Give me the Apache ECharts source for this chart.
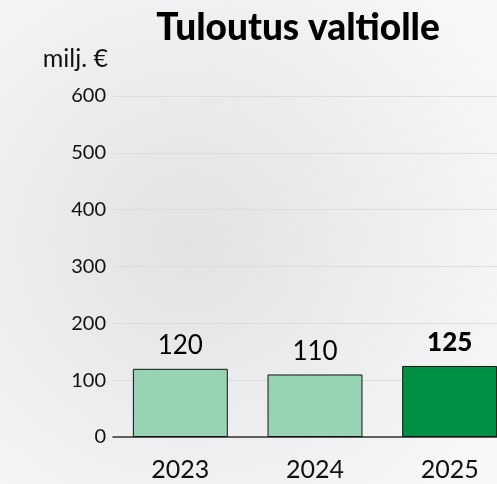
<!DOCTYPE html>
<html>
<head>
<meta charset="utf-8">
<script src="https://cdn.jsdelivr.net/npm/echarts@6/dist/echarts.min.js"></script>
<style>
  html, body { margin: 0; padding: 0; }
  #chart { width: 497px; height: 484px; }
</style>
</head>
<body>
<div id="chart"></div>
<script>
// arvot luettu kuvasta
const years = ['2023', '2024', '2025']
const values = [120, 110, 125]
const yTicks = [0, 100, 200, 300, 400, 500, 600]

const chart = echarts.init(document.getElementById('chart'), null, { renderer: 'canvas' })

const option = {
  backgroundColor: {
    type: 'radial', x: 0.38, y: 0.5, r: 0.75,
    colorStops: [
      { offset: 0, color: '#e2e2e5' },
      { offset: 0.55, color: '#eeeef0' },
      { offset: 1, color: '#f8f8f9' }
    ]
  },
  animation: false,
  title: {
    text: 'Tuloutus valtiolle',
    left: 293,
    top: 5,
    textAlign: 'center',
    textStyle: { fontFamily: 'Lato', fontWeight: 900, fontSize: 37, color: '#000' }
  },
  grid: { left: 113, width: 404, top: 96, bottom: 47, outerBoundsMode: 'none', containLabel: false },
  xAxis: {
    type: 'category',
    data: years,
    axisLine: { lineStyle: { color: '#333', width: 1.5 } },
    axisTick: { show: false },
    axisLabel: { fontFamily: 'Lato', fontSize: 25, color: '#111', margin: 20 }
  },
  yAxis: {
    type: 'value',
    min: 0,
    max: 600,
    interval: 100,
    name: 'milj. €',
    nameLocation: 'end',
    nameGap: 25,
    nameTextStyle: { fontFamily: 'Lato', fontSize: 25, color: '#111', align: 'right', padding: [0, 5, 0, 0] },
    axisLine: { show: false },
    axisTick: { show: false },
    axisLabel: {
      fontFamily: 'Lato', fontSize: 20, color: '#111', margin: 7,
      formatter: v => (yTicks.includes(v) ? String(v) : '')
    },
    splitLine: { lineStyle: { color: '#dcdde1', width: 1 } }
  },
  series: [{
    type: 'bar',
    barWidth: '70.5%',
    data: values.map((v, i) => ({
      value: v,
      itemStyle: { color: i === 2 ? '#009045' : '#98d4b4' },
      label: i === 2 ? { fontWeight: 900 } : {}
    })),
    itemStyle: { borderColor: '#111', borderWidth: 1 },
    label: {
      show: true,
      position: 'top',
      distance: 10,
      fontFamily: 'Lato',
      fontSize: 26,
      color: '#000'
    }
  }]
}

chart.setOption(option)
</script>
</body>
</html>
